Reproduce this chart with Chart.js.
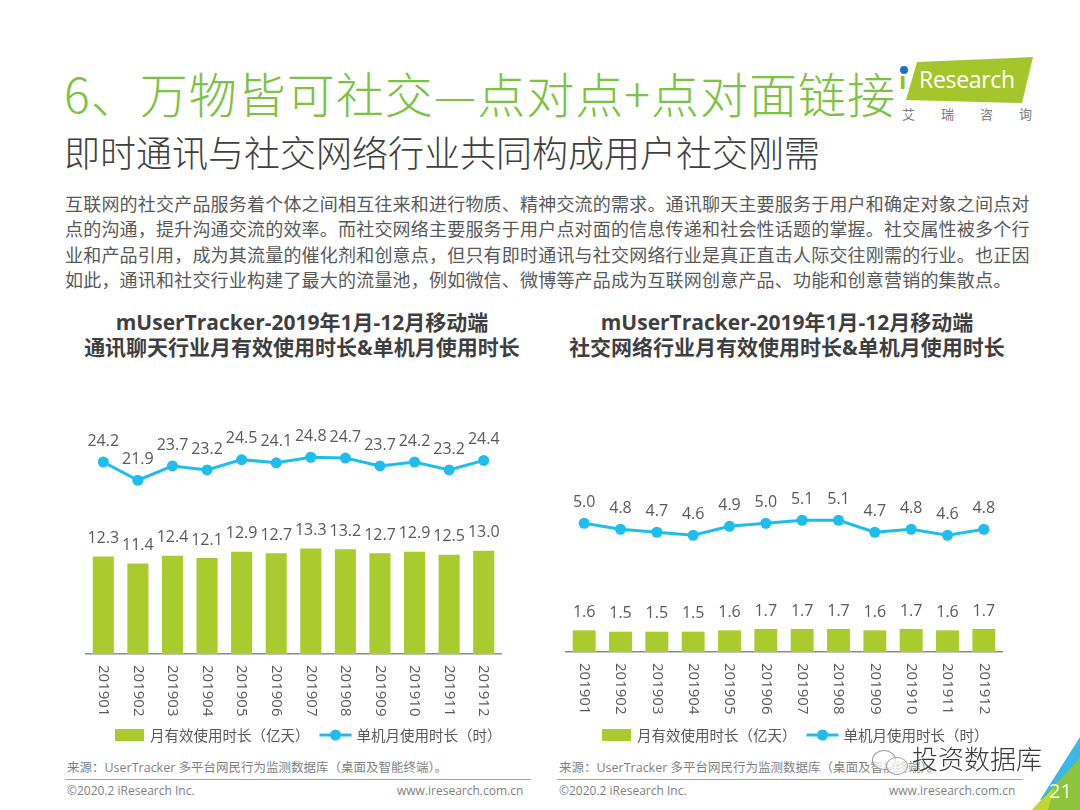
<!DOCTYPE html>
<html><head><meta charset="utf-8">
<script src="https://cdn.jsdelivr.net/npm/chart.js@4.4.1/dist/chart.umd.min.js"></script>
<style>
html,body{margin:0;padding:0;}
body{width:1080px;height:810px;background:#fff;position:relative;overflow:hidden;font-family:"Open Sans","Noto Sans CJK SC",sans-serif;}
.abs{position:absolute;white-space:nowrap;}
#title{left:64px;top:60px;font-size:48px;line-height:64px;color:#7DC242;font-family:"Noto Sans CJK SC",sans-serif;font-weight:300;letter-spacing:1px;}
#subtitle{left:64px;top:128px;font-size:36px;line-height:46px;color:#404040;font-family:"Noto Sans CJK SC",sans-serif;font-weight:300;}
#para{left:65px;top:191px;font-size:18px;line-height:25.3px;color:#595959;letter-spacing:0.2px;font-family:"Noto Sans CJK SC",sans-serif;}
.ctitle{top:310px;font-size:21px;line-height:25px;font-weight:bold;color:#3f3f3f;text-align:center;width:480px;}
.src{font-size:12.5px;line-height:16px;color:#7f7f7f;}
.copy{font-size:12px;line-height:16px;color:#7f7f7f;}
.sep{position:absolute;height:1px;background:#a6a6a6;}
canvas{position:absolute;}
</style>
</head>
<body>
<div id="title" class="abs">6、万物皆可社交—点对点+点对面链接</div>
<div id="subtitle" class="abs">即时通讯与社交网络行业共同构成用户社交刚需</div>
<div id="para" class="abs">互联网的社交产品服务着个体之间相互往来和进行物质、精神交流的需求。通讯聊天主要服务于用户和确定对象之间点对<br>点的沟通，提升沟通交流的效率。而社交网络主要服务于用户点对面的信息传递和社会性话题的掌握。社交属性被多个行<br>业和产品引用，成为其流量的催化剂和创意点，但只有即时通讯与社交网络行业是真正直击人际交往刚需的行业。也正因<br>如此，通讯和社交行业构建了最大的流量池，例如微信、微博等产品成为互联网创意产品、功能和创意营销的集散点。</div>

<!-- logo -->
<div class="abs" style="left:900px;top:55px;width:140px;height:50px;background:#A4C62C;clip-path:polygon(17px 7px,133px 2px,122px 48px,6px 45px);"></div>
<div class="abs" style="left:899px;top:65px;font-size:24px;line-height:30px;color:#8DC21F;font-weight:bold;">ı</div>
<div class="abs" style="left:900px;top:66px;width:8px;height:8px;border-radius:4px;background:#1F6FC8;"></div>
<div class="abs" style="left:919px;top:64px;font-size:23px;line-height:30px;color:#fff;letter-spacing:-0.3px;">Research</div>
<div class="abs" style="left:902px;top:105px;font-size:13px;line-height:18px;color:#7a7a7a;letter-spacing:26px;font-family:'Noto Sans CJK SC',sans-serif;">艾瑞咨询</div>

<div class="abs ctitle" style="left:62px;">mUserTracker-2019年1月-12月移动端<br>通讯聊天行业月有效使用时长&amp;单机月使用时长</div>
<div class="abs ctitle" style="left:547px;">mUserTracker-2019年1月-12月移动端<br>社交网络行业月有效使用时长&amp;单机月使用时长</div>

<canvas id="c1" width="470" height="354" style="left:60px;top:400px;width:470px;height:354px;"></canvas>
<canvas id="c2" width="480" height="354" style="left:540px;top:398px;width:480px;height:354px;"></canvas>

<!-- footer -->
<div class="abs src" style="left:67px;top:760px;">来源：UserTracker 多平台网民行为监测数据库（桌面及智能终端）。</div>
<div class="sep" style="left:65px;top:779px;width:466px;"></div>
<div class="abs copy" style="left:67px;top:783px;">©2020.2 iResearch Inc.</div>
<div class="abs copy" style="left:397px;top:783px;">www.iresearch.com.cn</div>

<div class="abs src" style="left:559px;top:760px;">来源：UserTracker 多平台网民行为监测数据库（桌面及智能终端）。</div>
<div class="sep" style="left:557px;top:779px;width:466px;"></div>
<div class="abs copy" style="left:559px;top:783px;">©2020.2 iResearch Inc.</div>
<div class="abs copy" style="left:889px;top:783px;">www.iresearch.com.cn</div>

<!-- watermark -->
<div class="abs" style="left:872px;top:750px;width:22px;height:18px;border:1.5px solid #9a9a9a;border-radius:50%;background:rgba(255,255,255,0.7);"></div>
<div class="abs" style="left:886px;top:757px;width:20px;height:16px;border:1.5px solid #9a9a9a;border-radius:50%;background:rgba(255,255,255,0.7);"></div>
<div class="abs" style="left:912px;top:741px;font-size:26px;line-height:34px;color:#3a3a3a;font-family:'Noto Sans CJK SC',sans-serif;font-weight:300;text-shadow:0 0 2px #fff,0 0 2px #fff;">投资数据库</div>

<!-- corner -->
<div class="abs" style="left:1020px;top:730px;width:60px;height:80px;background:#3DB8E6;clip-path:polygon(60px 7px,60px 60px,20px 70px);"></div>
<div class="abs" style="left:1020px;top:730px;width:60px;height:80px;background:#8CC43E;clip-path:polygon(60px 28px,60px 80px,12px 80px);"></div>
<div class="abs" style="left:1020px;top:730px;width:60px;height:80px;background:#C2D82E;clip-path:polygon(12px 80px,34px 58px,28px 80px);"></div>
<div class="abs" style="left:1049px;top:778px;font-size:20px;line-height:26px;color:#F4F8E0;">21</div>

<script>
// ---- data ----
const months = ['201901','201902','201903','201904','201905','201906','201907','201908','201909','201910','201911','201912'];
const chatDuration = [12.3,11.4,12.4,12.1,12.9,12.7,13.3,13.2,12.7,12.9,12.5,13.0];
const chatPerDevice = [24.2,21.9,23.7,23.2,24.5,24.1,24.8,24.7,23.7,24.2,23.2,24.4];
const socialDuration = [1.6,1.5,1.5,1.5,1.6,1.7,1.7,1.7,1.6,1.7,1.6,1.7];
const socialPerDevice = [5.0,4.8,4.7,4.6,4.9,5.0,5.1,5.1,4.7,4.8,4.6,4.8];
const barLabel = '月有效使用时长（亿天）';
const lineLabel = '单机月使用时长（时）';

const BAR = '#AACB2E';
const LINE = '#1FBDEB';
const TXT = '#595959';
const FONT = "'Open Sans','Noto Sans CJK SC',sans-serif";
const CJK = "'Noto Sans CJK SC',sans-serif";

const labelPlugin = {
  id: 'valueLabels',
  afterDatasetsDraw(chart){
    const ctx = chart.ctx;
    ctx.save();
    ctx.font = '16px ' + FONT;
    ctx.fillStyle = TXT;
    ctx.textAlign = 'center';
    ctx.textBaseline = 'middle';
    chart.data.datasets.forEach((ds, di) => {
      const meta = chart.getDatasetMeta(di);
      const off = ds.type === 'line' ? 21 : 18;
      meta.data.forEach((el, i) => {
        ctx.fillText(ds.data[i].toFixed(1), el.x, el.y - off);
      });
    });
    ctx.restore();
  },
  afterDraw(chart, args, opts){
    const ctx = chart.ctx;
    const sx = chart.scales.x;
    // rotated category labels (reading top to bottom)
    ctx.save();
    ctx.font = '15px ' + FONT;
    ctx.fillStyle = TXT;
    ctx.textAlign = 'left';
    ctx.textBaseline = 'middle';
    chart.data.labels.forEach((lab, i) => {
      const x = sx.getPixelForValue(i);
      ctx.save();
      ctx.translate(x, sx.top + 11);
      ctx.rotate(Math.PI / 2);
      ctx.fillText(lab, 0, 0);
      ctx.restore();
    });
    ctx.restore();
    // legend
    const ds = chart.data.datasets;
    const cy = opts.legendY;
    let x = opts.legendX;
    ctx.save();
    ctx.font = '14.5px ' + CJK;
    ctx.textBaseline = 'middle';
    ctx.textAlign = 'left';
    // bar swatch
    ctx.fillStyle = ds[0].backgroundColor;
    ctx.fillRect(x, cy - 6, 29, 12);
    ctx.fillStyle = TXT;
    ctx.fillText(ds[0].label, x + 35, cy);
    x += 35 + ctx.measureText(ds[0].label).width + 10;
    // line swatch
    ctx.strokeStyle = ds[1].borderColor;
    ctx.lineWidth = 3;
    ctx.beginPath(); ctx.moveTo(x, cy); ctx.lineTo(x + 32, cy); ctx.stroke();
    ctx.fillStyle = ds[1].borderColor;
    ctx.beginPath(); ctx.arc(x + 16, cy, 5.5, 0, Math.PI * 2); ctx.fill();
    ctx.fillStyle = TXT;
    ctx.fillText(ds[1].label, x + 37, cy);
    ctx.restore();
  }
};

function makeChart(id, bars, line, opts){
  const scales = {
    x: {
      grid: {display: true, color: 'rgba(0,0,0,0)', drawTicks: false},
      border: {display: true, color: '#8c8c8c', width: 1.5},
      ticks: {display: false},
      afterFit: s => { s.height = 65; }
    },
    y: {display: false, min: 0, max: opts.barMax}
  };
  if (opts.lineAxis) scales.y2 = {display: false, min: opts.lineMin, max: opts.lineMax};
  return new Chart(document.getElementById(id), {
    type: 'bar',
    data: {
      labels: months,
      datasets: [
        {type: 'bar', label: barLabel, data: bars, backgroundColor: BAR, borderWidth: 0,
         categoryPercentage: 1, barPercentage: opts.barPct, yAxisID: 'y'},
        {type: 'line', label: lineLabel, data: line, borderColor: LINE, backgroundColor: LINE,
         borderWidth: 3, pointRadius: 5.5, pointHoverRadius: 5.5, pointBackgroundColor: LINE,
         pointBorderWidth: 0, tension: 0, yAxisID: opts.lineAxis ? 'y2' : 'y'}
      ]
    },
    options: {
      responsive: false,
      animation: false,
      devicePixelRatio: 1,
      layout: {padding: {left: 26, right: opts.padRight, top: 16, bottom: 35}},
      scales,
      plugins: {
        tooltip: {enabled: false},
        legend: {display: false},
        valueLabels: {legendX: opts.legendX, legendY: opts.legendY}
      }
    },
    plugins: [labelPlugin]
  });
}

makeChart('c1', chatDuration, chatPerDevice, {barMax: 30, barPct: 0.61, padRight: 29, lineAxis: false, legendX: 55, legendY: 335});
makeChart('c2', socialDuration, socialPerDevice, {barMax: 17.6, barPct: 0.63, padRight: 18, lineAxis: true, lineMin: 0.71, lineMax: 8.64, legendX: 62, legendY: 337});
</script>
</body></html>
